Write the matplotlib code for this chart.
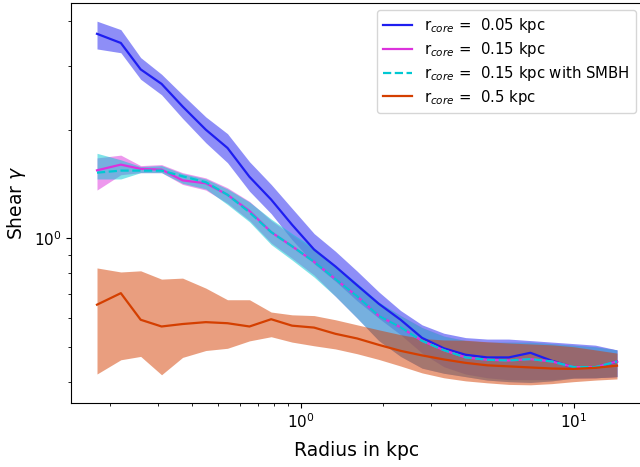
import matplotlib
matplotlib.use("Agg")
import matplotlib.pyplot as plt

radius = [0.18, 0.22, 0.26, 0.31, 0.37, 0.45, 0.54, 0.65, 0.78, 0.93, 1.12, 1.34,
          1.61, 1.93, 2.32, 2.78, 3.34, 4.01, 4.81, 5.77, 6.92, 8.30, 9.96, 11.96, 14.35]

blue_mid = [3.69, 3.48, 2.94, 2.68, 2.32, 2.00, 1.78, 1.48, 1.28, 1.09, 0.93, 0.835,
            0.74, 0.658, 0.594, 0.529, 0.495, 0.475, 0.467, 0.467, 0.481, 0.457, 0.438, 0.438, 0.455]
blue_low = [3.35, 3.27, 2.76, 2.50, 2.15, 1.84, 1.62, 1.35, 1.17, 0.99, 0.85, 0.76,
            0.67, 0.60, 0.54, 0.48, 0.44, 0.42, 0.41, 0.405, 0.405, 0.405, 0.41, 0.41, 0.413]
blue_high = [4.00, 3.79, 3.17, 2.85, 2.50, 2.17, 1.95, 1.63, 1.41, 1.21, 1.03, 0.92,
             0.81, 0.71, 0.63, 0.575, 0.545, 0.53, 0.525, 0.525, 0.52, 0.515, 0.51, 0.505, 0.49]

mag_mid = [1.543, 1.60, 1.557, 1.55, 1.447, 1.42, 1.32, 1.19, 1.04, 0.95, 0.86, 0.77,
           0.69, 0.609, 0.566, 0.519, 0.489, 0.467, 0.46, 0.458, 0.462, 0.455, 0.439, 0.439, 0.455]
mag_low = [1.36, 1.50, 1.52, 1.52, 1.41, 1.36, 1.25, 1.12, 0.97, 0.88, 0.79, 0.69,
           0.60, 0.52, 0.47, 0.436, 0.422, 0.413, 0.404, 0.40, 0.398, 0.402, 0.409, 0.41, 0.413]
mag_high = [1.67, 1.70, 1.59, 1.60, 1.52, 1.47, 1.38, 1.265, 1.12, 1.02, 0.93, 0.83,
            0.745, 0.66, 0.61, 0.565, 0.535, 0.52, 0.515, 0.515, 0.515, 0.51, 0.505, 0.50, 0.49]

cyan_mid = [1.52, 1.54, 1.54, 1.54, 1.485, 1.43, 1.32, 1.18, 1.04, 0.95, 0.86, 0.77,
            0.69, 0.609, 0.566, 0.519, 0.489, 0.467, 0.46, 0.458, 0.462, 0.455, 0.439, 0.439, 0.455]
cyan_low = [1.46, 1.46, 1.52, 1.52, 1.42, 1.37, 1.24, 1.11, 0.96, 0.87, 0.78, 0.69,
            0.60, 0.52, 0.47, 0.436, 0.422, 0.413, 0.404, 0.40, 0.398, 0.402, 0.409, 0.41, 0.413]
cyan_high = [1.72, 1.65, 1.58, 1.59, 1.51, 1.46, 1.37, 1.26, 1.13, 1.03, 0.94, 0.84,
             0.75, 0.665, 0.61, 0.565, 0.535, 0.52, 0.515, 0.515, 0.515, 0.51, 0.505, 0.50, 0.49]

orange_mid = [0.654, 0.704, 0.594, 0.569, 0.578, 0.585, 0.581, 0.569, 0.596, 0.572, 0.565, 0.543,
              0.527, 0.506, 0.487, 0.473, 0.461, 0.451, 0.444, 0.441, 0.438, 0.435, 0.434, 0.437, 0.443]
orange_low = [0.42, 0.46, 0.47, 0.418, 0.467, 0.488, 0.495, 0.519, 0.533, 0.515, 0.503, 0.493,
              0.478, 0.461, 0.442, 0.423, 0.41, 0.402, 0.397, 0.393, 0.392, 0.395, 0.40, 0.404, 0.407]
orange_high = [0.827, 0.806, 0.812, 0.77, 0.775, 0.727, 0.675, 0.675, 0.624, 0.613, 0.61, 0.594,
               0.575, 0.557, 0.54, 0.527, 0.522, 0.521, 0.516, 0.512, 0.509, 0.506, 0.50, 0.49, 0.48]

labels = [r"r$_{core}$ =  0.05 kpc", r"r$_{core}$ =  0.15 kpc",
          r"r$_{core}$ =  0.15 kpc with SMBH", r"r$_{core}$ =  0.5 kpc"]
colors = ["#1e1ef0", "#dc32dc", "#00c8d2", "#d43f00"]
styles = ["-", "-", "--", "-"]

series = [(blue_mid, blue_low, blue_high),
          (mag_mid, mag_low, mag_high),
          (cyan_mid, cyan_low, cyan_high),
          (orange_mid, orange_low, orange_high)]

fig = plt.figure(figsize=(6.4, 4.67), dpi=100)
ax = fig.add_axes([71 / 640, 64 / 467, 572 / 640, 400 / 467])

for (mid, lo, hi), c in zip(series, colors):
    ax.fill_between(radius, lo, hi, color=c, alpha=0.5, linewidth=0, zorder=1)
for (mid, lo, hi), c, ls, lab in zip(series, colors, styles, labels):
    ax.plot(radius, mid, color=c, linestyle=ls, linewidth=1.6, label=lab, zorder=3)

ax.set_xscale("log")
ax.set_yscale("log")
ax.set_xlabel("Radius in kpc", fontsize=13.5, labelpad=7)
ax.set_ylabel(r"Shear $\gamma$", fontsize=13.5)
ax.tick_params(axis="both", which="major", labelsize=11)
ax.legend(loc="upper right", fontsize=10.7, labelspacing=0.32)

fig.savefig("out.png", dpi=100)
